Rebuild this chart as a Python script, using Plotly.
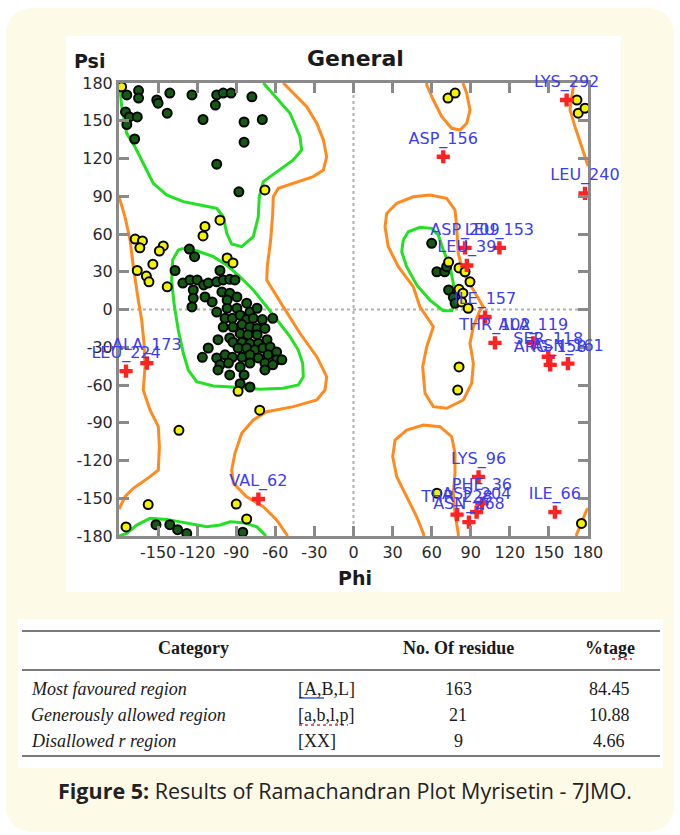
import plotly.graph_objects as go

W, H = 680, 835
# pixel frame of the plot area and of the white chart image
PX0, PX1, PY0, PY1 = 119, 588, 83, 536
IX0, IY0, IX1, IY1 = 66, 36, 621, 592

# ---------------- data ----------------
core_phi = [-174, -165, -165, -151, -150, -141, -124, -105, -100, -94, -106, -78, -175, -172, -166, -174, -168, -143,
            -115.5, -84, -70, -84, -105, -88,
            -126, -122, -137, -102.5,
            -131, -125.5, -120, -123, -115, -111.5, -105, -100, -95, -91, -123, -114, -108.5, -124, -101, -95, -97,
            -89.5, -105, -97, -89.5, -82, -79.5, -74, -62, -98.6, -93, -87, -82, -77, -70, -100, -92.5, -85.6, -79.5,
            -74, -68, -87, -81, -74, -95, -104, -92.5, -85.6, -79.5, -73, -66.4, -88.6, -82, -75.6, -69.5, -64,
            -111.5, -116, -105, -98.6, -93, -85.6, -79.5, -73, -65.6, -59, -59, -102.5, -96, -87, -79.5, -68, -62,
            -55, -95, -104, -87, -79.5, -68, -84,
            -151.6, -141, -135, -128, -85,
            60, 64, 70, 71.5, 73, 76.6, 78]
core_psi = [170.5, 174, 168, 166.5, 164, 172, 170.5, 170.5, 172, 172, 162.5, 169, 157, 153, 153, 147, 135.5, 156,
            151, 149, 151, 133, 115.5, 93.5,
            48, 42, 31, 31,
            21, 23.5, 23.5, 15.5, 19.5, 21, 22, 23.5, 24, 23.5, 9, 10, 6, 2, 14, 13, 7.5,
            10, -2, 1, 1, 5, -2, 1, -7, -7, -7, -4.5, -8, -7, -8, -14, -14, -12, -14,
            -15, -15, -19, -20, -20, -22.6, -24, -26, -26, -27, -27, -24, -30.6, -30.6, -32, -30.6, -29.8,
            -30.6, -38, -38.5, -36, -38, -38, -36, -38.5, -36, -33.8, -40, -44, -42.6, -45.6, -42.6, -42.6, -44,
            -40, -52, -48, -59, -61.6, -48, -52,
            -171, -171, -175, -178, -177,
            52.6, 30, 30, 34, 15.5, 9.7, 4.9]

allowed_phi = [-178, -68, -102.5, -114, -115.5, -167.6, -162, -164, -146, -149, -154, -166, -159, -157, -143, -97,
               -92.5, -88.6, -72, -134, -157.6, -90, -82, -174.6,
               73, 81, 85.6, 89.4, 81, 84, 83, 88, 81, 80, 72.5, 78, 171.5, 172.5, 177.7, 175, 64]
allowed_psi = [177, 95, 71, 66, 58.5, 56, 54.5, 49, 50.5, 46.5, 36, 31, 26.6, 22, 18, 41,
               37, -65, -80, -96, -155, -154.6, -166.5, -172.8,
               37.7, 33, 30, 22, 16, 13, 6, 1, -45.6, -64, 168, 172, 166.5, 156, 160, -170, -146]

out_names = ["ASP_156", "LYS_292", "LEU_240", "ASP_209", "LEU_153", "LEU_39", "ILE_157", "THR_102", "ALA_119",
             "SER_118", "ARG_158", "ASN_161", "ALA_173", "LEU_224", "VAL_62", "LYS_96", "PHE_36", "ASP_204",
             "THR_228", "ASN_268", "ILE_66"]
out_phi = [68.9, 163.6, 177.7, 85.6, 112, 87, 101, 108.6, 138, 149.5, 151, 164.6, -158.6, -174.6, -73, 96, 98.6,
           94.5, 79.5, 88.6, 154.6]
out_psi = [121.4, 166.5, 92.3, 49, 49, 35, -6, -26.5, -26.5, -37.5, -44, -43, -42.6, -49, -150.6, -133, -154,
           -161, -163, -169, -161]

# core (green) region outlines
core_beta_phi = [-69.2, -48.7, -41.1, -39.8, -46.2, -59, -69.2, -72.3, -73.1, -76.9, -85.8, -93.5, -97.3, -99.9,
                 -105, -117.8, -130.6, -143.4, -153.7, -161.4, -167.8, -174.1, -177.9, -179.2, -180]
core_beta_psi = [180, 156, 137.4, 126.8, 118.8, 109.5, 101.6, 89.6, 73.7, 57.9, 49.9, 52, 60.6, 73.7,
                 80.4, 83, 85.7, 91, 100.3, 116.2, 129.4, 140, 161.2, 174.4, 178]
core_beta_low_phi = [-180, -174.1, -166.4, -156.2, -143.4, -128, -112.7, -102.4, -94.7, -84.5, -74.3, -67.9, -67.5]
core_beta_low_psi = [-180, -177.9, -171.3, -166, -166.8, -170, -172.6, -171.3, -168.7, -169.4, -172.6, -179.2, -180]
core_alpha_phi = [-130.6, -120.4, -107.6, -97.4, -87.1, -76.9, -66.6, -56.4, -48.7, -42.4, -39, -38.5, -42.4, -53.9,
                  -71.8, -89.7, -107.6, -120.4, -126.8, -130.6, -134.5, -137.8, -139.6, -138.8, -134.5, -130.6]
core_alpha_psi = [48.6, 46.7, 42, 35.4, 26, 15.5, 2.2, -11, -21.6, -32.2, -42.8, -53.4, -60, -62.6,
                  -63.4, -61.8, -60.8, -57.4, -48.1, -34.8, -16.3, 4.9, 23.4, 39.3, 47.3, 48.6]
core_left_phi = [38.2, 42.1, 51, 60, 65.1, 68.9, 74.1, 76.6, 77.9, 75.4, 68.9, 58.7, 48.5, 40.8, 37, 38.2]
core_left_psi = [55.2, 61.8, 65.3, 64.5, 59.2, 47.3, 34, 20.8, 7.5, -1, -1, 7.5, 19.5, 34, 45.9, 55.2]

# allowed (orange) region outlines
allow_right_phi = [-53.9, -46.2, -35.9, -28.2, -23.1, -20.6, -23.1, -30.9, -46.2, -57.7, -61.6, -62, -63.6, -66.2,
                   -66.6, -61.6, -55, -41.1, -28.2, -20.6, -21.9, -28.2, -46.2, -66.6, -76.9, -85.8, -91, -93.5,
                   -92.2, -82, -69.2, -59, -51.3, -50.5]
allow_right_psi = [180, 171.8, 161.2, 148, 134.7, 121.4, 110.9, 105.6, 100.3, 96.3, 89.6, 76.4, 55.2, 34,
                   23.4, 15.5, 4, -18.9, -37.5, -53.4, -64, -71.9, -77.2, -81.2, -87.8, -98.4, -114.3, -127.5,
                   -138.1, -148.8, -156.7, -167.3, -179.2, -180]
allow_left_phi = [-180, -179.2, -175.4, -171.5, -169, -166.4, -165.2, -162.6, -160.8, -160, -161.4, -156.2, -149.8,
                  -149, -149.8, -156.2, -169, -175.4, -179.2, -180]
allow_left_psi = [89, 87.1, 73.7, 55.2, 34, 12.9, 7.5, -8.3, -26.9, -45.5, -64, -79.9, -93.1,
                  -109, -127.5, -132.8, -142.1, -148.8, -158, -158.6]
allow_tr_phi = [168.7, 168.7, 166.2, 170, 175.2, 179, 180]
allow_tr_psi = [180, 177, 158.6, 145.3, 129.4, 116.2, 114]
allow_br_phi = [170.9, 171.5, 179.1, 180]
allow_br_psi = [-180, -178, -159, -158.2]
allow_loop_phi = [58.7, 71.5, 77.9, 79.2, 80.4, 84.3, 92, 99.6, 97.1, 92, 89.4, 92, 90.7, 84.3, 71.5, 61.3, 54.9,
                  53.1, 56.2, 61.3, 51, 45.9, 34.4, 26.7, 24.2, 25.5, 33.2, 45.9, 58.7]
allow_loop_psi = [91, 88.4, 79.1, 65.8, 44.7, 28.8, 15.5, 2.2, -0.4, -13.7, -26.9, -42.8, -58.6, -71.9, -78.5,
                  -77.2, -66.6, -45.5, -29.6, -13.7, 2.2, 18.1, 34, 49.9, 65.8, 76.4, 84.4, 89.6, 91]
allow_top_phi = [56.2, 56.2, 61.3, 67.7, 75.4, 81.8, 86.9, 89.4, 86.9, 84.3, 84]
allow_top_psi = [180, 178.4, 166.5, 153.2, 144, 142.6, 148, 158.6, 171.8, 178.4, 180]
allow_bot_phi = [54, 53.6, 48.5, 40.8, 33.2, 30.1, 31.9, 40.8, 53.6, 66.4, 75.4, 77.9, 77.9, 76.6, 77.9, 80.4, 80.6]
allow_bot_psi = [-180, -177.9, -164.7, -148.8, -132.9, -117, -103.7, -95.8, -91.8, -93.1, -101.1, -114.3, -130.2,
                 -146.1, -162, -177.9, -180]

tick_vals = list(range(-180, 181, 30))
x_tick_text = [""] + [str(v) for v in tick_vals[1:]]
y_tick_text = [str(v) for v in tick_vals]

# table
tbl_header = ["Category", "No. Of residue", "%tage"]
tbl_category = ["Most favoured region", "Generously allowed region", "Disallowed r region"]
tbl_code = ["[A,B,L]", "[a,b,l,p]", "[XX]"]
tbl_residues = [163, 21, 9]
tbl_percent = [84.45, 10.88, 4.66]
caption = "<b>Figure 5:</b> Results of Ramachandran Plot Myrisetin - 7JMO."

# ---------------- helpers ----------------
def fx(px):
    return px / W


def fy(py):
    return 1 - py / H


def phi_at(px):
    return -180 + (px - PX0) * 360 / (PX1 - PX0)


def psi_at(py):
    return 180 - (py - PY0) * 360 / (PY1 - PY0)


def rrect(x0, y0, x1, y1, r):
    p = [("M", x0 + r, y0), ("L", x1 - r, y0), ("Q", x1, y0, x1, y0 + r), ("L", x1, y1 - r),
         ("Q", x1, y1, x1 - r, y1), ("L", x0 + r, y1), ("Q", x0, y1, x0, y1 - r), ("L", x0, y0 + r),
         ("Q", x0, y0, x0 + r, y0)]
    s = ""
    for seg in p:
        cmd = seg[0]
        nums = seg[1:]
        pts = []
        for i in range(0, len(nums), 2):
            pts.append(f"{fx(nums[i]):.5f},{fy(nums[i + 1]):.5f}")
        s += cmd + " " + " ".join(pts) + " "
    return s + "Z"


GREEN = "#22e022"
ORANGE = "#ff8a1e"

fig = go.Figure()

for ph, ps in [(core_beta_phi, core_beta_psi), (core_beta_low_phi, core_beta_low_psi),
               (core_alpha_phi, core_alpha_psi), (core_left_phi, core_left_psi)]:
    fig.add_trace(go.Scatter(x=ph, y=ps, mode="lines", line=dict(color=GREEN, width=3),
                             hoverinfo="skip", showlegend=False))
for ph, ps in [(allow_right_phi, allow_right_psi), (allow_left_phi, allow_left_psi), (allow_tr_phi, allow_tr_psi),
               (allow_br_phi, allow_br_psi), (allow_loop_phi, allow_loop_psi), (allow_top_phi, allow_top_psi),
               (allow_bot_phi, allow_bot_psi)]:
    fig.add_trace(go.Scatter(x=ph, y=ps, mode="lines", line=dict(color=ORANGE, width=3),
                             hoverinfo="skip", showlegend=False))

fig.add_trace(go.Scatter(x=core_phi, y=core_psi, mode="markers", showlegend=False,
                         marker=dict(size=9, color="#145a14", line=dict(color="#050505", width=2))))
fig.add_trace(go.Scatter(x=allowed_phi, y=allowed_psi, mode="markers", showlegend=False,
                         marker=dict(size=9, color="#f4f400", line=dict(color="#050505", width=2))))
fig.add_trace(go.Scatter(x=out_phi, y=out_psi, mode="markers", showlegend=False,
                         marker=dict(size=11, symbol="cross", color="#ff2222", line=dict(width=0))))

# labels in a second subplot covering the white image, so they clip at its edge
lab_psi = [p + 13.5 for p in out_psi]
fig.add_trace(go.Scatter(x=out_phi, y=lab_psi, text=out_names, mode="text", xaxis="x2", yaxis="y2",
                         textfont=dict(family="DejaVu Sans", size=16, color="#3c3cf5"),
                         cliponaxis=True, showlegend=False, hoverinfo="skip"))

axis_common = dict(showgrid=False, zeroline=False, showline=True, linecolor="#8a8a8a", linewidth=3,
                   mirror="ticks", ticks="inside", ticklen=10, tickwidth=2.5, tickcolor="#8a8a8a",
                   tickfont=dict(family="DejaVu Sans", size=16, color="#2a2a2a"),
                   tickvals=tick_vals, tickangle=0, automargin=False, fixedrange=True)

fig.update_layout(
    width=W, height=H, margin=dict(l=0, r=0, t=0, b=0, pad=0, autoexpand=False),
    paper_bgcolor="white", plot_bgcolor="rgba(0,0,0,0)",
    xaxis=dict(range=[-180, 180], domain=[fx(PX0), fx(PX1)], anchor="y", ticktext=x_tick_text, **axis_common),
    yaxis=dict(range=[-180, 180], domain=[fy(PY1), fy(PY0)], anchor="x", ticktext=y_tick_text, **axis_common),
    xaxis2=dict(range=[phi_at(IX0), phi_at(IX1)], domain=[fx(IX0), fx(IX1)], anchor="y2", visible=False,
                automargin=False, fixedrange=True),
    yaxis2=dict(range=[psi_at(IY1), psi_at(IY0)], domain=[fy(IY1), fy(IY0)], anchor="x2", visible=False,
                automargin=False, fixedrange=True),
)

shapes = [
    dict(type="path", xref="paper", yref="paper", path=rrect(6, 8, 674, 832, 28),
         fillcolor="#fefae8", line=dict(width=0), layer="below"),
    dict(type="rect", xref="paper", yref="paper", x0=fx(IX0), x1=fx(IX1), y0=fy(IY1), y1=fy(IY0),
         fillcolor="white", line=dict(width=0), layer="below"),
    dict(type="rect", xref="paper", yref="paper", x0=fx(18), x1=fx(663), y0=fy(768), y1=fy(619),
         fillcolor="white", line=dict(width=0), layer="below"),
    dict(type="line", xref="x", yref="y", x0=0, x1=0, y0=-180, y1=180,
         line=dict(color="#b0b0b0", width=2, dash="dot"), layer="below"),
    dict(type="line", xref="x", yref="y", x0=-180, x1=180, y0=0, y1=0,
         line=dict(color="#b0b0b0", width=2, dash="dot"), layer="below"),
]
for yy in [631, 670, 756]:
    shapes.append(dict(type="line", xref="paper", yref="paper", x0=fx(22), x1=fx(660), y0=fy(yy), y1=fy(yy),
                       line=dict(color="#7a7a7a", width=2)))
# spell-check style underlines
shapes.append(dict(type="line", xref="paper", yref="paper", x0=fx(299), x1=fx(324), y0=fy(698), y1=fy(698),
                   line=dict(color="#3a5fd0", width=1.5)))
shapes.append(dict(type="line", xref="paper", yref="paper", x0=fx(299), x1=fx(348), y0=fy(725), y1=fy(725),
                   line=dict(color="#e03030", width=1.5, dash="dot")))
shapes.append(dict(type="line", xref="paper", yref="paper", x0=fx(612), x1=fx(632), y0=fy(659), y1=fy(659),
                   line=dict(color="#e03030", width=1.5, dash="dot")))
fig.update_layout(shapes=shapes)

ann = []


def add_text(text, px, py, size, family, xanchor="center", color="#1a1a1a"):
    ann.append(dict(text=text, x=fx(px), y=fy(py), xref="paper", yref="paper", showarrow=False,
                    xanchor=xanchor, yanchor="middle", font=dict(family=family, size=size, color=color)))


add_text("<b>General</b>", 355, 59, 22, "DejaVu Sans")
add_text("<b>Psi</b>", 89, 61, 19, "DejaVu Sans")
add_text("<b>Phi</b>", 355, 578, 19, "DejaVu Sans")

serif = "Liberation Serif"
add_text("<b>" + tbl_header[0] + "</b>", 193, 648, 18, serif)
add_text("<b>" + tbl_header[1] + "</b>", 458, 648, 18, serif)
add_text("<b>" + tbl_header[2] + "</b>", 610, 648, 18, serif)
for i, yy in enumerate([689, 715, 741]):
    add_text("<i>" + tbl_category[i] + "</i>", 29, yy, 18, serif, xanchor="left")
    add_text(tbl_code[i], 296, yy, 18, serif, xanchor="left")
    add_text(str(tbl_residues[i]), 458, yy, 18, serif)
    add_text(f"{tbl_percent[i]:.2f}", 609, yy, 18, serif)

add_text(caption, 345, 790, 21.5, "Open Sans", color="#222222")
fig.update_layout(annotations=ann)

fig.write_html("out.html", config={"displayModeBar": False},
               post_script="document.body.style.margin='0';")
